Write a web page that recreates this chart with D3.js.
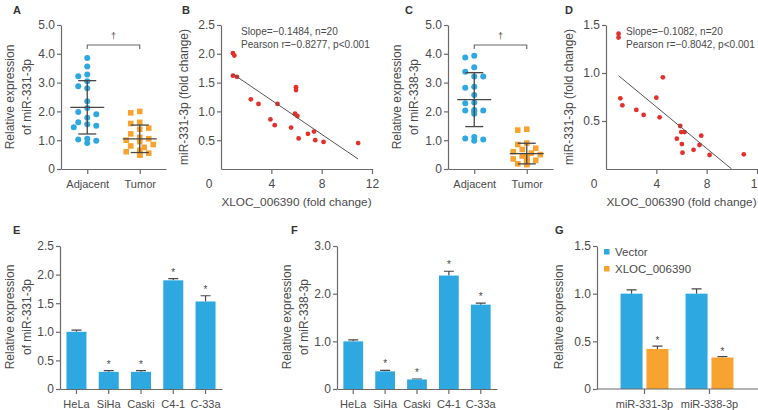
<!DOCTYPE html>
<html>
<head>
<meta charset="utf-8">
<script src="https://cdn.jsdelivr.net/npm/d3@7"></script>
<style>
  body { margin: 0; background: #fff; }
  text { font-family: "Liberation Sans", Arial, sans-serif; fill: #4a4a4a; }
  .axis path, .axis line { stroke: #6a6a6a; stroke-width: 1.2; }
  .axis text { font-size: 12px; fill: #4a4a4a; font-family: "Liberation Sans", Arial, sans-serif; }
  .cat text { font-size: 11px; }
</style>
</head>
<body>
<svg id="chart" width="758" height="410"></svg>
<script>
// ---- data ----
const groups = [`Adjacent`, `Tumor`];

// A: miR-331-3p, adjacent vs tumor (n=20 each)
const adj331 = [3.85, 3.56, 3.28, 3.22, 3.05, 2.87, 2.80, 2.35, 2.12, 1.98, 1.90, 1.78, 1.62, 1.55, 1.50, 1.45, 1.05, 1.02, 0.98, 0.90];
const tum331 = [2.00, 1.95, 1.62, 1.58, 1.42, 1.38, 1.22, 1.10, 1.05, 1.00, 0.95, 0.85, 0.80, 0.75, 0.65, 0.60, 0.55, 0.52, 0.50, 0.48];

// C: miR-338-3p, adjacent vs tumor
const adj338 = [3.93, 3.87, 3.53, 3.38, 3.21, 3.21, 2.86, 2.82, 2.57, 2.31, 2.28, 2.05, 2.03, 2.03, 2.00, 1.92, 1.11, 1.06, 1.02, 0.98];
const tum338 = [1.38, 1.35, 0.90, 0.85, 0.72, 0.68, 0.60, 0.55, 0.50, 0.45, 0.42, 0.38, 0.35, 0.30, 0.28, 0.25, 0.22, 0.20, 0.18, 0.15];

// B: XLOC_006390 vs miR-331-3p
const xlocB = [0.95, 1.06, 0.95, 1.27, 2.37, 2.98, 4.49, 3.93, 4.27, 5.57, 5.96, 5.96, 5.88, 6.07, 6.17, 6.91, 7.39, 7.49, 8.15, 10.9];
const foldB = [2.01, 1.97, 1.62, 1.60, 1.21, 1.13, 1.13, 0.86, 0.76, 0.72, 1.42, 1.37, 0.96, 0.92, 0.53, 0.61, 0.65, 0.50, 0.47, 0.45];
const fitB = [-0.1484, 1.79]; // slope, intercept
const statsB = [`Slope=\u22120.1484, n=20`, `Pearson r=\u22120.8277, p<0.001`];

// D: XLOC_006390 vs miR-338-3p
const xlocD = [1.00, 1.00, 4.52, 1.14, 1.30, 4.00, 2.41, 2.99, 4.26, 5.90, 5.98, 6.24, 5.63, 6.03, 6.08, 6.96, 7.43, 7.57, 8.23, 10.95];
const foldD = [1.41, 1.37, 0.955, 0.736, 0.663, 0.743, 0.615, 0.563, 0.538, 0.448, 0.385, 0.385, 0.316, 0.26, 0.17, 0.20, 0.25, 0.347, 0.146, 0.153];
const fitD = [-0.1082, 1.08];
const statsD = [`Slope=\u22120.1082, n=20`, `Pearson r=\u22120.8042, p<0.001`];

// E, F: cell lines
const cellLines = [`HeLa`, `SiHa`, `Caski`, `C4-1`, `C-33a`];
const exprE = [1.00, 0.30, 0.30, 1.90, 1.53];
const errE = [0.03, 0.02, 0.02, 0.03, 0.10];
const exprF = [1.00, 0.37, 0.20, 2.38, 1.77];
const errF = [0.03, 0.02, 0.01, 0.09, 0.03];
const starred = [false, true, true, true, true];

// G: overexpression
const mirs = [`miR-331-3p`, `miR-338-3p`];
const seriesG = [`Vector`, `XLOC_006390`];
const vectorG = [1.00, 1.00];
const vectorErr = [0.04, 0.05];
const xlocG = [0.42, 0.33];
const xlocErr = [0.03, 0.01];

const BLUE = `#2ea8e0`, ORANGE = `#f8a22f`, RED = `#e2312c`, INK = `#474747`;

const svg = d3.select(`#chart`);
const fmt = d => d === 0 ? `0` : d.toFixed(1);

function letter(t, x, y) {
    svg.append(`text`).attr(`x`, x).attr(`y`, y)
        .style(`font-size`, `11px`).style(`font-weight`, `bold`).style(`fill`, `#333`)
        .text(t);
}

function yLabel(lines, cx, cy) {
    lines.forEach((t, i) => {
        svg.append(`text`)
            .attr(`transform`, `translate(${cx + i * 17 + 4},${cy}) rotate(-90)`)
            .attr(`text-anchor`, `middle`)
            .style(`font-size`, `12px`)
            .text(t);
    });
}

function swarm(vals, y, cx) {
    let placed = [];
    return vals.map(v => {
        let py = y(v);
        let off = [0, -9, 9, -4.5, 4.5, -13.5, 13.5]
            .find(o => placed.every(p => Math.hypot(p[0] - (cx + o), p[1] - py) >= 6.6));
        if (off === undefined) off = 0;
        placed.push([cx + off, py]);
        return [cx + off, py];
    });
}

function dotPlot(x0, a, b, ylines) {
    let y = d3.scaleLinear().domain([0, 5]).range([169, 25]);
    let x = d3.scalePoint().domain(groups).range([x0, x0 + 105]).padding(0.5);

    svg.append(`g`).attr(`class`, `axis`).attr(`transform`, `translate(${x0},0)`)
        .call(d3.axisLeft(y).tickValues([0, 1, 2, 3, 4, 5]).tickFormat(fmt).tickSize(4).tickSizeOuter(0).tickPadding(2));
    svg.append(`g`).attr(`class`, `axis cat`).attr(`transform`, `translate(0,169)`)
        .call(d3.axisBottom(x).tickSize(5).tickSizeOuter(0).tickPadding(6));

    let g = svg.append(`g`);
    // adjacent: circles
    g.selectAll(`.dotA`).data(swarm(a, y, x(groups[0]))).enter().append(`circle`)
        .attr(`cx`, d => d[0]).attr(`cy`, d => d[1]).attr(`r`, 3).attr(`fill`, BLUE);
    // tumor: squares
    g.selectAll(`.dotB`).data(swarm(b, y, x(groups[1]))).enter().append(`rect`)
        .attr(`x`, d => d[0] - 2.8).attr(`y`, d => d[1] - 2.8).attr(`width`, 5.6).attr(`height`, 5.6).attr(`fill`, ORANGE);

    // mean +/- SD
    [a, b].forEach((vals, i) => {
        let cx = x(groups[i]), m = d3.mean(vals), sd = d3.deviation(vals);
        let e = g.append(`g`).attr(`stroke`, INK).attr(`stroke-width`, 1.3);
        e.append(`line`).attr(`x1`, cx).attr(`x2`, cx).attr(`y1`, y(m - sd)).attr(`y2`, y(m + sd));
        e.append(`line`).attr(`x1`, cx - 17).attr(`x2`, cx + 17).attr(`y1`, y(m)).attr(`y2`, y(m));
        [m - sd, m + sd].forEach(v => e.append(`line`).attr(`x1`, cx - 9).attr(`x2`, cx + 9).attr(`y1`, y(v)).attr(`y2`, y(v)));
    });

    // significance bracket
    svg.append(`path`)
        .attr(`d`, `M${x(groups[0])},49V45H${x(groups[1])}V49`)
        .attr(`fill`, `none`).attr(`stroke`, `#666`).attr(`stroke-width`, 1.1);
    svg.append(`text`).attr(`x`, (x(groups[0]) + x(groups[1])) / 2).attr(`y`, 39)
        .attr(`text-anchor`, `middle`).style(`font-size`, `9px`).text(`\u2020`);

    yLabel(ylines, x0 - 51, 97);
}

function scatter(x0, xs, ys, ymax, yticks, fit, stats, ylab) {
    let x = d3.scaleLinear().domain([0, 12]).range([x0, x0 + 151]);
    let y = d3.scaleLinear().domain([0, ymax]).range([169, 25]);

    svg.append(`g`).attr(`class`, `axis`).attr(`transform`, `translate(${x0},0)`)
        .call(d3.axisLeft(y).tickValues(yticks).tickFormat(fmt).tickSize(4).tickSizeOuter(0).tickPadding(2));
    svg.append(`g`).attr(`class`, `axis`).attr(`transform`, `translate(0,169)`)
        .call(d3.axisBottom(x).tickValues([4, 8, 12]).tickFormat(d3.format(`d`)).tickSize(5).tickSizeOuter(0).tickPadding(5));
    svg.append(`text`).attr(`x`, x0 - 12).attr(`y`, 188).attr(`text-anchor`, `middle`)
        .style(`font-size`, `12px`).text(`0`);

    let pts = xs.map((v, i) => [v, ys[i]]);
    svg.selectAll(null).data(pts).enter().append(`circle`)
        .attr(`cx`, d => x(d[0])).attr(`cy`, d => y(d[1])).attr(`r`, 2.4).attr(`fill`, RED);

    let xa = d3.min(xs), xb = Math.min(d3.max(xs), -fit[1] / fit[0]);
    svg.append(`line`)
        .attr(`x1`, x(xa)).attr(`y1`, y(fit[0] * xa + fit[1]))
        .attr(`x2`, x(xb)).attr(`y2`, y(fit[0] * xb + fit[1]))
        .attr(`stroke`, `#555`).attr(`stroke-width`, 1);

    stats.forEach((t, i) => svg.append(`text`).attr(`x`, x0 + 20).attr(`y`, 35 + i * 12.5)
        .style(`font-size`, `10.1px`).text(t));

    svg.append(`text`).attr(`x`, x0 + 75.5).attr(`y`, 206).attr(`text-anchor`, `middle`)
        .style(`font-size`, `11.8px`).text(`XLOC_006390 (fold change)`);
    yLabel([ylab], x0 - 37, 97);
}

function bars(x0, x1, vals, errs, ymax, yticks, ylines) {
    let y = d3.scaleLinear().domain([0, ymax]).range([389, 246]);
    let x = d3.scaleBand().domain(cellLines).range([x0, x1]).paddingInner(0.38).paddingOuter(0.2);

    svg.append(`g`).attr(`class`, `axis`).attr(`transform`, `translate(${x0},0)`)
        .call(d3.axisLeft(y).tickValues(yticks).tickFormat(fmt).tickSize(4).tickSizeOuter(0).tickPadding(2));

    let data = cellLines.map((c, i) => ({ c: c, v: vals[i], e: errs[i], s: starred[i] }));
    let g = svg.append(`g`);
    g.selectAll(`.err`).data(data).enter().append(`path`)
        .attr(`d`, d => `M${x(d.c) + x.bandwidth() / 2},${y(d.v)}V${y(d.v + d.e)}M${x(d.c) + x.bandwidth() / 2 - 5},${y(d.v + d.e)}h10`)
        .attr(`stroke`, INK).attr(`stroke-width`, 1.2).attr(`fill`, `none`);
    g.selectAll(`.bar`).data(data).enter().append(`rect`)
        .attr(`x`, d => x(d.c)).attr(`y`, d => y(d.v))
        .attr(`width`, x.bandwidth()).attr(`height`, d => y(0) - y(d.v))
        .attr(`fill`, BLUE);
    g.selectAll(`.star`).data(data.filter(d => d.s)).enter().append(`text`)
        .attr(`x`, d => x(d.c) + x.bandwidth() / 2).attr(`y`, d => y(d.v + d.e) - 3)
        .attr(`text-anchor`, `middle`).style(`font-size`, `10px`).text(`*`);

    svg.append(`g`).attr(`class`, `axis cat`).attr(`transform`, `translate(0,389)`)
        .call(d3.axisBottom(x).tickSize(5).tickSizeOuter(0).tickPadding(6));

    yLabel(ylines, x0 - 50, 317);
}

function groupedBars(x0) {
    let y = d3.scaleLinear().domain([0, 1.5]).range([389, 246]);
    let x = d3.scaleBand().domain(mirs).range([x0 + 15, x0 + 145]);
    let xi = d3.scaleBand().domain(seriesG).range([0, x.bandwidth()]).paddingInner(0.15).paddingOuter(0.33);

    svg.append(`g`).attr(`class`, `axis`).attr(`transform`, `translate(${x0},0)`)
        .call(d3.axisLeft(y).tickValues([0, 0.5, 1, 1.5]).tickFormat(fmt).tickSize(4).tickSizeOuter(0).tickPadding(2));

    let series = [[vectorG, vectorErr, BLUE], [xlocG, xlocErr, ORANGE]];
    let data = [];
    mirs.forEach((m, i) => series.forEach((s, j) => data.push({ m: m, k: seriesG[j], v: s[0][i], e: s[1][i], col: s[2] })));

    let g = svg.append(`g`);
    let cxOf = d => x(d.m) + xi(d.k) + xi.bandwidth() / 2;
    g.selectAll(`.err`).data(data).enter().append(`path`)
        .attr(`d`, d => `M${cxOf(d)},${y(d.v)}V${y(d.v + d.e)}M${cxOf(d) - 5},${y(d.v + d.e)}h10`)
        .attr(`stroke`, INK).attr(`stroke-width`, 1.2).attr(`fill`, `none`);
    g.selectAll(`.bar`).data(data).enter().append(`rect`)
        .attr(`x`, d => x(d.m) + xi(d.k)).attr(`y`, d => y(d.v))
        .attr(`width`, xi.bandwidth()).attr(`height`, d => y(0) - y(d.v))
        .attr(`fill`, d => d.col);
    g.selectAll(`.star`).data(data.filter(d => d.k === seriesG[1])).enter().append(`text`)
        .attr(`x`, cxOf).attr(`y`, d => y(d.v + d.e) - 2)
        .attr(`text-anchor`, `middle`).style(`font-size`, `10px`).text(`*`);

    let xa = svg.append(`g`).attr(`class`, `axis cat`).attr(`transform`, `translate(0,389)`)
        .call(d3.axisBottom(x).tickSize(5).tickSizeOuter(0).tickPadding(6));
    xa.select(`.domain`).attr(`d`, `M${x0},0H758`);

    // legend
    let lg = svg.append(`g`).attr(`transform`, `translate(${x0 + 7},249)`);
    seriesG.forEach((s, i) => {
        lg.append(`rect`).attr(`x`, 0).attr(`y`, i * 17).attr(`width`, 5.5).attr(`height`, 5.5)
            .attr(`fill`, [BLUE, ORANGE][i]);
        lg.append(`text`).attr(`x`, 11).attr(`y`, i * 17 + 7).style(`font-size`, `11.5px`).text(s);
    });

    yLabel([`Relative expression`], x0 - 38, 317);
}

// ---- panels ----
dotPlot(61, adj331, tum331, [`Relative expression`, `of miR-331-3p`]);
scatter(221, xlocB, foldB, 2.5, [0.5, 1, 1.5, 2, 2.5], fitB, statsB, `miR-331-3p (fold change)`);
dotPlot(448, adj338, tum338, [`Relative expression`, `of miR-338-3p`]);
scatter(606, xlocD, foldD, 1.5, [0.5, 1, 1.5], fitD, statsD, `miR-331-3p (fold change)`);

bars(60, 222, exprE, errE, 2.5, [0, 0.5, 1, 1.5, 2, 2.5], [`Relative expression`, `of miR-331-3p`]);
bars(337, 497, exprF, errF, 3, [0, 1, 2, 3], [`Relative expression`, `of miR-338-3p`]);
groupedBars(597);

letter(`A`, 13, 14);
letter(`B`, 182, 14);
letter(`C`, 405, 14);
letter(`D`, 565, 14);
letter(`E`, 13, 234);
letter(`F`, 291, 234);
letter(`G`, 555, 234);
</script>
</body>
</html>
